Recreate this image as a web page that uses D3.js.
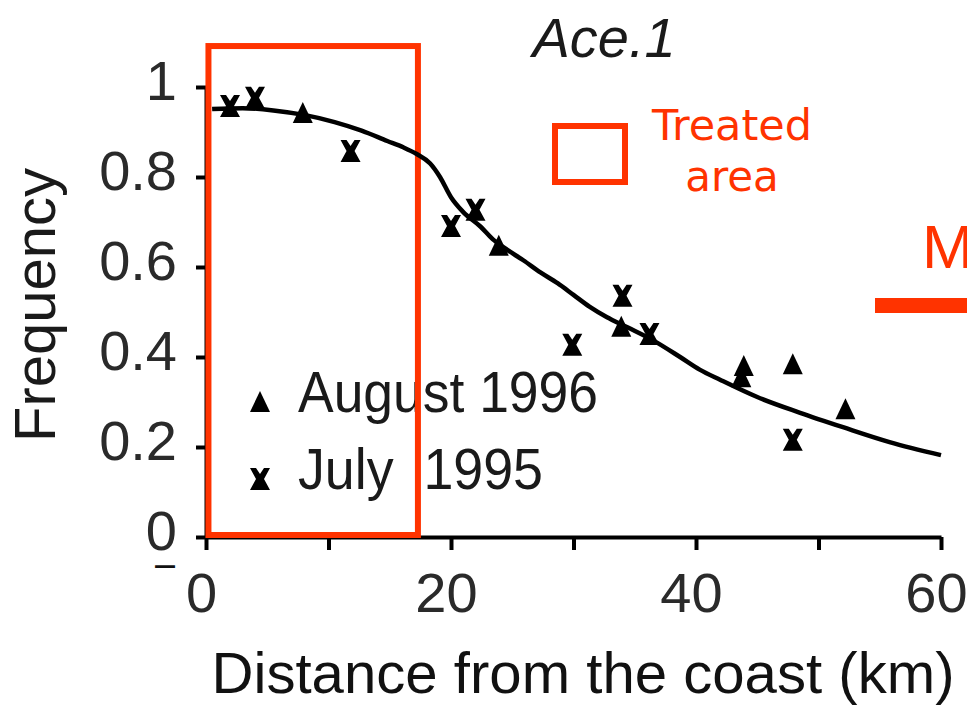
<!DOCTYPE html>
<html>
<head>
<meta charset="utf-8">
<script src="https://cdn.jsdelivr.net/npm/d3@7"></script>
<style>
  html, body { margin: 0; padding: 0; background: #fff; }
  svg { display: block; }
  text { font-family: "Liberation Sans", Arial, sans-serif; }
</style>
</head>
<body>
<div id="chart"></div>
<script>
// fitted cline
const curveKm = [0.5, 3, 5.5, 8, 10.5, 12.7, 14.8, 16.1, 17.2, 18.3, 19.1, 20, 21, 22.4, 23.4, 24.6, 25.9, 27.3, 28.7, 30, 31.3, 32.7, 34.4, 36.5, 38.7, 40.3, 42, 45, 48.5, 52, 55.8, 60];
const curveFreq = [0.951, 0.953, 0.948, 0.938, 0.922, 0.903, 0.880, 0.866, 0.851, 0.830, 0.800, 0.755, 0.722, 0.690, 0.662, 0.638, 0.615, 0.588, 0.564, 0.538, 0.512, 0.489, 0.466, 0.437, 0.400, 0.372, 0.349, 0.311, 0.276, 0.244, 0.211, 0.182];

// samples
const aug96Km = [7.9, 23.9, 33.9, 43.9, 43.7, 47.9, 52.2];
const aug96Freq = [0.942, 0.647, 0.467, 0.380, 0.355, 0.384, 0.284];
const jul95Km = [1.96, 4.0, 11.8, 20.0, 22.0, 29.9, 34.0, 36.2, 47.9];
const jul95Freq = [0.958, 0.976, 0.858, 0.691, 0.727, 0.427, 0.536, 0.451, 0.216];

// treated area, in data units
const treatedKm = [0.2, 17.3];
const treatedFreq = [0, 1.091];

const xTicks = [0, 10, 20, 30, 40, 50, 60];
const yTicks = [0, 0.2, 0.4, 0.6, 0.8, 1];
const legendLabels = ['August 1996', 'July  1995'];

const red = '#ff3300';
const W = 967, H = 707;

const svg = d3.select('#chart').append('svg')
  .attr('width', W)
  .attr('height', H);

const x = d3.scaleLinear().domain([0, 60]).range([206, 941]);
const y = d3.scaleLinear().domain([0, 1]).range([537, 87]);

// marker shapes
const triPath = 'M0,-11 L10,10 L-10,10 Z';
const xPath = 'M-10,-11 L-4,-11 L0,-5 L4,-11 L10,-11 L4,0 L10,11 L-10,11 L-4,0 Z';

// axes
const yAxis = svg.append('g')
  .attr('transform', `translate(${x(0)},0)`)
  .call(d3.axisLeft(y).tickValues(yTicks).tickSize(10).tickSizeOuter(0).tickPadding(19).tickFormat(d3.format('~g')));

const xAxis = svg.append('g')
  .attr('transform', `translate(0,${y(0)})`)
  .call(d3.axisBottom(x).tickValues(xTicks).tickSize(13).tickSizeOuter(0).tickPadding(22)
    .tickFormat(d => d % 20 === 0 ? d : ''));

[xAxis, yAxis].forEach(g => {
  g.select('.domain').attr('stroke', '#000').attr('stroke-width', 4);
  g.selectAll('.tick line').attr('stroke', '#000').attr('stroke-width', 4);
  g.selectAll('.tick text')
    .attr('fill', '#2a2a2a')
    .style('font-size', '56px')
    .style('font-family', '"Liberation Sans", Arial, sans-serif');
});
yAxis.selectAll('.tick text').attr('dy', '0.23em');
xAxis.selectAll('.tick text').attr('dx', -5);

// stray minus below the zero label
svg.append('text')
  .attr('x', 165).attr('y', 580)
  .attr('text-anchor', 'middle')
  .attr('fill', '#111')
  .style('font-size', '40px')
  .attr('textLength', 24)
  .attr('lengthAdjust', 'spacingAndGlyphs')
  .text('\u2212');

// axis titles
svg.append('text')
  .attr('x', 583).attr('y', 693)
  .attr('text-anchor', 'middle')
  .attr('fill', '#111')
  .style('font-size', '58px')
  .attr('textLength', 743)
  .attr('lengthAdjust', 'spacingAndGlyphs')
  .text('Distance from the coast (km)');

svg.append('text')
  .attr('transform', 'translate(55,305) rotate(-90)')
  .attr('text-anchor', 'middle')
  .attr('fill', '#1a1a1a')
  .style('font-size', '58px')
  .text('Frequency');

svg.append('text')
  .attr('x', 604).attr('y', 57)
  .attr('text-anchor', 'middle')
  .attr('fill', '#1a1a1a')
  .style('font-size', '56px')
  .style('font-style', 'italic')
  .text('Ace.1');

// legend for samples
const legend = svg.append('g');
legend.append('path').attr('d', triPath).attr('transform', 'translate(260,402)').attr('fill', '#000');
legend.append('path').attr('d', xPath).attr('transform', 'translate(260,479)').attr('fill', '#000');
legend.selectAll('text.lab')
  .data(legendLabels)
  .join('text')
  .attr('class', 'lab')
  .attr('x', 298)
  .attr('y', (d, i) => i ? 489 : 412)
  .attr('fill', '#1a1a1a')
  .style('font-size', '57px')
  .style('white-space', 'pre')
  .attr('textLength', (d, i) => i ? 245 : 300)
  .attr('lengthAdjust', 'spacingAndGlyphs')
  .text(d => d);

// treated area box
svg.append('rect')
  .attr('x', x(treatedKm[0]))
  .attr('y', y(treatedFreq[1]))
  .attr('width', x(treatedKm[1]) - x(treatedKm[0]))
  .attr('height', y(treatedFreq[0]) - y(treatedFreq[1]) - 2)
  .attr('fill', 'none')
  .attr('stroke', red)
  .attr('stroke-width', 6);

// treated area legend
svg.append('rect')
  .attr('x', 555).attr('y', 126)
  .attr('width', 70).attr('height', 56)
  .attr('fill', 'none')
  .attr('stroke', red)
  .attr('stroke-width', 6);
svg.append('text')
  .attr('x', 732).attr('y', 140)
  .attr('text-anchor', 'middle')
  .attr('fill', red)
  .style('font-family', '"DejaVu Sans", sans-serif')
  .style('font-size', '42px')
  .attr('textLength', 160)
  .attr('lengthAdjust', 'spacingAndGlyphs')
  .text('Treated');
svg.append('text')
  .attr('x', 732).attr('y', 191)
  .attr('text-anchor', 'middle')
  .attr('fill', red)
  .style('font-family', '"DejaVu Sans", sans-serif')
  .style('font-size', '42px')
  .text('area');

// clipped bits on the right edge
svg.append('text')
  .attr('x', 922).attr('y', 268)
  .attr('fill', red)
  .style('font-size', '62px')
  .text('M');
svg.append('rect')
  .attr('x', 875).attr('y', 298)
  .attr('width', 100).attr('height', 15)
  .attr('fill', red);

// cline
const line = d3.line()
  .x(i => x(curveKm[i]))
  .y(i => y(curveFreq[i]))
  .curve(d3.curveMonotoneX);

svg.append('path')
  .attr('d', line(d3.range(curveKm.length)))
  .attr('fill', 'none')
  .attr('stroke', '#000')
  .attr('stroke-width', 4.5);

// points
svg.append('g').selectAll('path')
  .data(d3.range(aug96Km.length))
  .join('path')
  .attr('d', triPath)
  .attr('transform', i => `translate(${x(aug96Km[i])},${y(aug96Freq[i])})`)
  .attr('fill', '#000');

svg.append('g').selectAll('path')
  .data(d3.range(jul95Km.length))
  .join('path')
  .attr('d', xPath)
  .attr('transform', i => `translate(${x(jul95Km[i])},${y(jul95Freq[i])})`)
  .attr('fill', '#000');
</script>
</body>
</html>
